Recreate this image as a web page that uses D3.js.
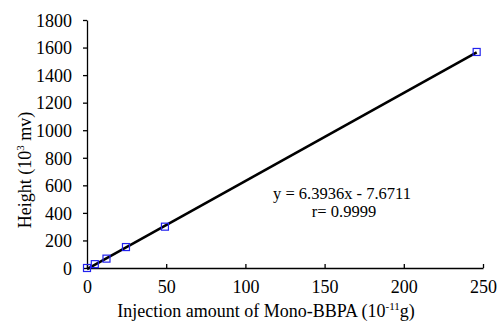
<!DOCTYPE html>
<html>
<head>
<meta charset="utf-8">
<script src="https://cdn.jsdelivr.net/npm/d3@7"></script>
<style>
  body { margin: 0; background: #fff; }
  text { font-family: "Liberation Serif", "Times New Roman", serif; }
</style>
</head>
<body>
<svg id="chart" width="499" height="321"></svg>
<script>
// data
var injection = [0, 4.92, 12.3, 24.6, 49.2, 246];
var height = [0, 28, 68, 152, 300, 1568];
var slope = 6.3936, intercept = -7.6711;
var xTicks = [0, 50, 100, 150, 200, 250];
var yTicks = [0, 200, 400, 600, 800, 1000, 1200, 1400, 1600, 1800];

var svg = d3.select("#chart");
var plotL = 87, plotR = 483, plotT = 20, plotB = 268;

var x = d3.scaleLinear().domain([0, 250]).range([plotL, plotR]);
var y = d3.scaleLinear().domain([0, 1800]).range([plotB, plotT]);

// y axis, ticks outside
var yAxis = svg.append("g").attr("transform", "translate(" + plotL + ",0)")
	.call(d3.axisLeft(y).tickValues(yTicks).tickFormat(d3.format("d")).tickSize(4).tickPadding(11).tickSizeOuter(0));
// x axis, ticks pointing up into the plot
var xAxis = svg.append("g").attr("transform", "translate(0," + plotB + ")")
	.call(d3.axisBottom(x).tickValues(xTicks).tickSize(-4).tickPadding(12).tickSizeOuter(0));

[yAxis, xAxis].forEach(function(ax){
	ax.select(".domain").attr("stroke", "#000").attr("stroke-width", 1.3);
	ax.selectAll(".tick line").attr("stroke", "#000").attr("stroke-width", 1.3);
	ax.selectAll(".tick text").attr("fill", "#000").style("font-size", "18px")
		.style("font-family", "Liberation Serif, serif");
});
yAxis.selectAll(".tick text").attr("dy", "0.35em");
xAxis.selectAll(".tick text").attr("dy", "0.71em");

// trend line over the data range
var x0 = d3.min(injection), x1 = d3.max(injection);
svg.append("line")
	.attr("x1", x(x0)).attr("y1", y(slope * x0 + intercept))
	.attr("x2", x(x1)).attr("y2", y(slope * x1 + intercept))
	.attr("stroke", "#000").attr("stroke-width", 2.6);

// markers
svg.selectAll("rect.pt").data(injection).enter().append("rect")
	.attr("class", "pt")
	.attr("x", function(d){ return x(d) - 3.5; })
	.attr("y", function(d, i){ return y(height[i]) - 3.5; })
	.attr("width", 7).attr("height", 7)
	.attr("fill", "none").attr("stroke", "#2222ee").attr("stroke-width", 1.2);

// equation
svg.append("text").attr("x", 342).attr("y", 199).attr("text-anchor", "middle")
	.style("font-size", "16.5px").text("y = 6.3936x - 7.6711");
svg.append("text").attr("x", 344).attr("y", 217).attr("text-anchor", "middle")
	.style("font-size", "16.5px").text("r= 0.9999");

// axis titles
var yt = svg.append("text").attr("transform", "translate(31,170) rotate(-90)")
	.attr("text-anchor", "middle").style("font-size", "18px");
yt.append("tspan").text("Height (10");
yt.append("tspan").attr("dy", -7).style("font-size", "11px").text("3");
yt.append("tspan").attr("dy", 7).text(" mv)");

var xt = svg.append("text").attr("x", 266).attr("y", 317)
	.attr("text-anchor", "middle").style("font-size", "18px");
xt.append("tspan").text("Injection amount of Mono-BBPA (10");
xt.append("tspan").attr("dy", -7).style("font-size", "11px").text("-11");
xt.append("tspan").attr("dy", 7).text("g)");
</script>
</body>
</html>
